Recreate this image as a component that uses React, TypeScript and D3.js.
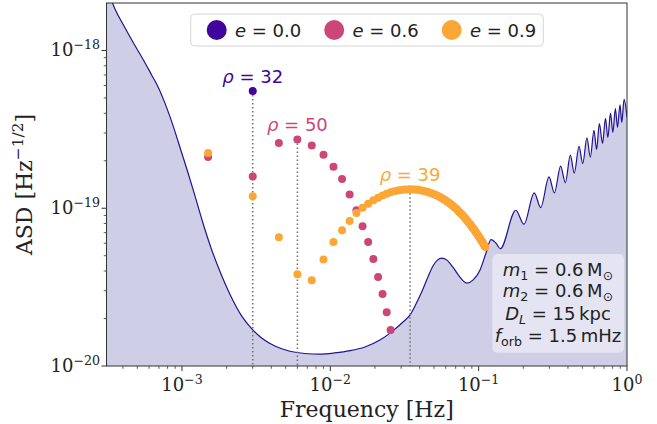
import React from 'react';
import * as d3 from 'd3';

// ---------- data ----------
// detector noise curve (ASD)
const curveFreq = [
  3.12e-4, 3.53e-4, 4.12e-4, 4.81e-4, 5.62e-4, 6.27e-4, 6.88e-4, 7.55e-4, 8.29e-4, 9.10e-4,
  9.98e-4, 1.096e-3, 1.22e-3, 1.38e-3, 1.59e-3, 1.86e-3, 2.17e-3, 2.53e-3, 2.96e-3, 3.46e-3,
  4.23e-3, 5.34e-3, 6.74e-3, 8.51e-3, 1.07e-2, 1.36e-2, 1.71e-2, 2.16e-2, 2.64e-2, 3.09e-2,
  3.44e-2, 3.78e-2, 4.15e-2, 4.55e-2, 4.92e-2, 5.27e-2, 5.66e-2, 6.11e-2, 6.71e-2, 7.48e-2,
  8.34e-2, 9.15e-2, 0.102, 0.112, 0.121, 0.131, 0.140, 0.178, 0.202, 0.237,
  0.262, 0.298, 0.324, 0.357, 0.384, 0.415, 0.441, 0.475, 0.503, 0.537,
  0.566, 0.599, 0.624, 0.651, 0.684, 0.716, 0.743, 0.774, 0.803, 0.835,
  0.863, 0.897, 0.922, 0.956, 1.0,
];
const curveASD = [
  2.47e-18, 1.84e-18, 1.40e-18, 1.08e-18, 8.40e-19, 6.95e-19, 5.92e-19, 4.83e-19, 3.82e-19, 2.94e-19,
  2.23e-19, 1.69e-19, 1.21e-19, 8.15e-20, 5.42e-20, 3.71e-20, 2.69e-20, 2.07e-20, 1.72e-20, 1.50e-20,
  1.34e-20, 1.24e-20, 1.20e-20, 1.19e-20, 1.21e-20, 1.25e-20, 1.32e-20, 1.46e-20, 1.67e-20, 1.90e-20,
  2.10e-20, 2.47e-20, 2.98e-20, 3.66e-20, 4.30e-20, 4.69e-20, 4.83e-20, 4.69e-20, 4.23e-20, 3.66e-20,
  3.35e-20, 3.50e-20, 4.05e-20, 5.19e-20, 6.32e-20, 6.00e-20, 5.54e-20, 9.71e-20, 7.92e-20, 1.25e-19,
  1.01e-19, 1.58e-19, 1.25e-19, 1.85e-19, 1.45e-19, 2.17e-19, 1.67e-19, 2.47e-19, 1.92e-19, 2.79e-19,
  2.11e-19, 3.12e-19, 2.36e-19, 3.44e-19, 2.58e-19, 3.71e-19, 2.81e-19, 4.01e-19, 3.03e-19, 4.28e-19,
  3.26e-19, 4.52e-19, 3.50e-19, 4.90e-19, 3.77e-19,
];

// e = 0.0 harmonics
const e00FreqMHz = [3];
const e00ASD = [55.3e-20];

// e = 0.6 harmonics
const e06FreqMHz = [1.5, 3, 4.5, 6, 7.5, 9, 10.5, 12, 13.5, 15, 16.5, 18, 19.5, 21, 22.5, 24, 25.5];
const e06ASD = [
  21.1e-20, 15.9e-20, 25.9e-20, 27.3e-20, 25.0e-20, 21.8e-20, 18.3e-20, 15.3e-20, 12.2e-20, 9.71e-20,
  7.69e-20, 6.12e-20, 4.76e-20, 3.67e-20, 2.86e-20, 2.19e-20, 1.69e-20,
];

// e = 0.9 harmonics
const e09FreqMHz = [
  1.5, 3, 4.5, 6, 7.5, 9, 10.5, 12, 13.5, 15, 16.5, 18, 19.5, 21, 22.5, 24, 25.5, 27, 28.5, 30,
  31.5, 33, 34.5, 36, 37.5, 39, 40.5, 42, 43.5, 45, 46.5, 48, 49.5, 51, 52.5, 54, 55.5, 57, 58.5, 60,
  61.5, 63, 64.5, 66, 67.5, 69, 70.5, 72, 73.5, 75, 76.5, 78, 79.5, 81, 82.5, 84, 85.5, 87, 88.5, 90,
  91.5, 93, 94.5, 96, 97.5, 99, 100.5, 102, 103.5, 105, 106.5, 108, 109.5, 111,
];
const e09ASD = [
  22.4e-20, 11.9e-20, 6.55e-20, 3.82e-20, 3.50e-20, 4.74e-20, 6.12e-20, 7.26e-20, 8.31e-20, 9.32e-20,
  10.06e-20, 10.68e-20, 11.22e-20, 11.67e-20, 12.05e-20, 12.35e-20, 12.61e-20, 12.81e-20, 12.96e-20, 13.06e-20,
  13.13e-20, 13.17e-20, 13.19e-20, 13.17e-20, 13.13e-20, 13.09e-20, 13.02e-20, 12.92e-20, 12.83e-20, 12.72e-20,
  12.59e-20, 12.46e-20, 12.32e-20, 12.19e-20, 12.03e-20, 11.88e-20, 11.70e-20, 11.53e-20, 11.35e-20, 11.19e-20,
  11.01e-20, 10.83e-20, 10.65e-20, 10.48e-20, 10.28e-20, 10.10e-20, 9.91e-20, 9.74e-20, 9.54e-20, 9.38e-20,
  9.19e-20, 9.02e-20, 8.82e-20, 8.67e-20, 8.47e-20, 8.31e-20, 8.12e-20, 7.97e-20, 7.82e-20, 7.63e-20,
  7.48e-20, 7.35e-20, 7.17e-20, 7.02e-20, 6.89e-20, 6.73e-20, 6.59e-20, 6.47e-20, 6.29e-20, 6.17e-20,
  6.06e-20, 5.89e-20, 5.78e-20, 5.67e-20,
];

const eccLabels = ['0.0', '0.6', '0.9'];
const snrLabels = ['32', '50', '39'];
const snrFreqMHz = [3, 6, 34.5];

const xMajorTicks = [1e-3, 1e-2, 1e-1, 1];
const xMajorExp = ['\u22123', '\u22122', '\u22121', '0'];
const yMajorTicks = [1e-20, 1e-19, 1e-18];
const yMajorExp = ['\u221220', '\u221219', '\u221218'];

// ---------- layout / style ----------
const W = 657;
const H = 424;
const PL = 106.5, PR = 627, PT = 3, PB = 366;
const COLORS = ['#41049d', '#cc4778', '#fca636'];
const SANS = 'DejaVu Sans, Verdana, sans-serif';
const SERIF = 'DejaVu Serif, serif';
const INK = '#222';
const THIN = '\u2009';

export default function App() {
  const x = d3.scaleLog().domain([3.1e-4, 1]).range([PL, PR]);
  const y = d3.scaleLog().domain([1e-20, 2e-18]).range([PB, PT]);

  const curvePts: [number, number][] = curveFreq.map((f, i) => [f, curveASD[i]]);
  const line = d3.line<[number, number]>().x(d => x(d[0])).y(d => y(d[1])).curve(d3.curveMonotoneX);
  const area = d3
    .area<[number, number]>()
    .x(d => x(d[0]))
    .y0(PB)
    .y1(d => y(d[1]))
    .curve(d3.curveMonotoneX);

  const series = [
    { f: e00FreqMHz, a: e00ASD },
    { f: e06FreqMHz, a: e06ASD },
    { f: e09FreqMHz, a: e09ASD },
  ];

  const isMajor = (t: number) => Math.abs(Math.log10(t) - Math.round(Math.log10(t))) < 1e-6;
  const xTicksAll = x.ticks().filter(t => x(t) >= PL - 0.01 && x(t) <= PR + 0.01);
  const yTicksAll = y.ticks().filter(t => y(t) <= PB + 0.01 && y(t) >= PT + 1);

  const peaks = series.map((s, i) => {
    const k = s.f.indexOf(snrFreqMHz[i]);
    return { f: s.f[k] * 1e-3, a: s.a[k] };
  });

  const legendX0 = 216.7;
  const legendStep = 117.5;

  return (
    <svg
      width={W}
      height={H}
      viewBox={`0 0 ${W} ${H}`}
      style={{ position: 'absolute', left: 0, top: 0, background: '#fff' }}
    >
      <defs>
        <clipPath id="plotclip">
          <rect x={PL} y={PT} width={PR - PL} height={PB - PT} />
        </clipPath>
      </defs>
      <rect x={0} y={0} width={W} height={H} fill="#fff" />

      <g clipPath="url(#plotclip)">
        <path d={area(curvePts) || ''} fill="#cfcee7" />
        <path d={line(curvePts) || ''} fill="none" stroke="#22138f" strokeWidth={1.2} />
      </g>

      {/* dotted drop lines */}
      {peaks.map((p, i) => (
        <line
          key={'dl' + i}
          x1={x(p.f)}
          x2={x(p.f)}
          y1={y(p.a)}
          y2={PB}
          stroke="#6e6e6e"
          strokeWidth={1.5}
          strokeDasharray="1.5 2.5"
        />
      ))}

      {/* harmonic dots */}
      {series.map((s, i) => (
        <g key={'s' + i} clipPath="url(#plotclip)">
          {s.f.map((fm, j) => (
            <circle key={j} cx={x(fm * 1e-3)} cy={y(s.a[j])} r={4} fill={COLORS[i]} />
          ))}
        </g>
      ))}

      {/* SNR labels */}
      {peaks.map((p, i) => (
        <text
          key={'snr' + i}
          x={x(p.f)}
          y={y(p.a) - 8}
          textAnchor="middle"
          fontFamily={SANS}
          fontSize={18}
          fill={COLORS[i]}
        >
          <tspan fontStyle="italic">ρ</tspan>
          {' = ' + snrLabels[i]}
        </text>
      ))}

      {/* frame */}
      <rect x={PL} y={PT} width={PR - PL} height={PB - PT} fill="none" stroke="#333" strokeWidth={1} />

      {/* x ticks */}
      {xTicksAll.map((t, i) => (
        <line
          key={'xt' + i}
          x1={x(t)}
          x2={x(t)}
          y1={PB}
          y2={PB + (isMajor(t) ? 5 : 2.8)}
          stroke="#333"
          strokeWidth={isMajor(t) ? 1 : 0.8}
        />
      ))}
      {xMajorTicks.map((t, i) => (
        <text key={'xl' + i} x={x(t)} y={391} textAnchor="middle" fontFamily={SERIF} fontSize={18} fill={INK}>
          10
          <tspan fontSize={12.6} dy={-7.5}>
            {xMajorExp[i]}
          </tspan>
        </text>
      ))}

      {/* y ticks */}
      {yTicksAll.map((t, i) => (
        <line
          key={'yt' + i}
          x1={PL}
          x2={PL - (isMajor(t) ? 5 : 2.8)}
          y1={y(t)}
          y2={y(t)}
          stroke="#333"
          strokeWidth={isMajor(t) ? 1 : 0.8}
        />
      ))}
      {yMajorTicks.map((t, i) => (
        <text key={'yl' + i} x={100} y={y(t) + 6} textAnchor="end" fontFamily={SERIF} fontSize={18} fill={INK}>
          10
          <tspan fontSize={12.6} dy={-7.5}>
            {yMajorExp[i]}
          </tspan>
        </text>
      ))}

      {/* axis titles */}
      <text x={(PL + PR) / 2} y={417} textAnchor="middle" fontFamily={SERIF} fontSize={22} fill={INK}>
        Frequency [Hz]
      </text>
      <text
        transform={`translate(32, ${(PT + PB) / 2}) rotate(-90)`}
        textAnchor="middle"
        fontFamily={SERIF}
        fontSize={22}
        fill={INK}
      >
        ASD [Hz
        <tspan fontSize={15.4} dy={-9}>
          {'\u22121/2'}
        </tspan>
        <tspan dy={9}>]</tspan>
      </text>

      {/* legend */}
      <rect x={190.7} y={14} width={352.6} height={32} rx={4} fill="#fff" fillOpacity={0.8} stroke="#d6d6d6" strokeWidth={1} />
      {eccLabels.map((lab, i) => (
        <g key={'lg' + i}>
          <circle cx={legendX0 + i * legendStep} cy={30} r={10} fill={COLORS[i]} />
          <text x={legendX0 + i * legendStep + 18.3} y={37} fontFamily={SANS} fontSize={18} fill={INK}>
            <tspan fontStyle="italic">e</tspan>
            {' = ' + lab}
          </text>
        </g>
      ))}

      {/* parameter box */}
      <rect x={492.3} y={254} width={131.7} height={98.7} rx={5} fill="#fff" fillOpacity={0.45} />
      <g fontFamily={SANS} fontSize={18} fill={INK} textAnchor="middle">
        <text x={558} y={276}>
          <tspan fontStyle="italic">m</tspan>
          <tspan fontSize={12.6} dy={4}>1</tspan>
          <tspan dy={-4}>{' = 0.6' + THIN + 'M'}</tspan>
          <tspan fontSize={12.6} dy={4}>⊙</tspan>
        </text>
        <text x={558} y={297}>
          <tspan fontStyle="italic">m</tspan>
          <tspan fontSize={12.6} dy={4}>2</tspan>
          <tspan dy={-4}>{' = 0.6' + THIN + 'M'}</tspan>
          <tspan fontSize={12.6} dy={4}>⊙</tspan>
        </text>
        <text x={558} y={320}>
          <tspan fontStyle="italic">D</tspan>
          <tspan fontSize={12.6} dy={4} fontStyle="italic">L</tspan>
          <tspan dy={-4}>{' = 15' + THIN + 'kpc'}</tspan>
        </text>
        <text x={558} y={342}>
          <tspan fontStyle="italic">f</tspan>
          <tspan fontSize={12.6} dy={4}>orb</tspan>
          <tspan dy={-4}>{' = 1.5' + THIN + 'mHz'}</tspan>
        </text>
      </g>
    </svg>
  );
}
